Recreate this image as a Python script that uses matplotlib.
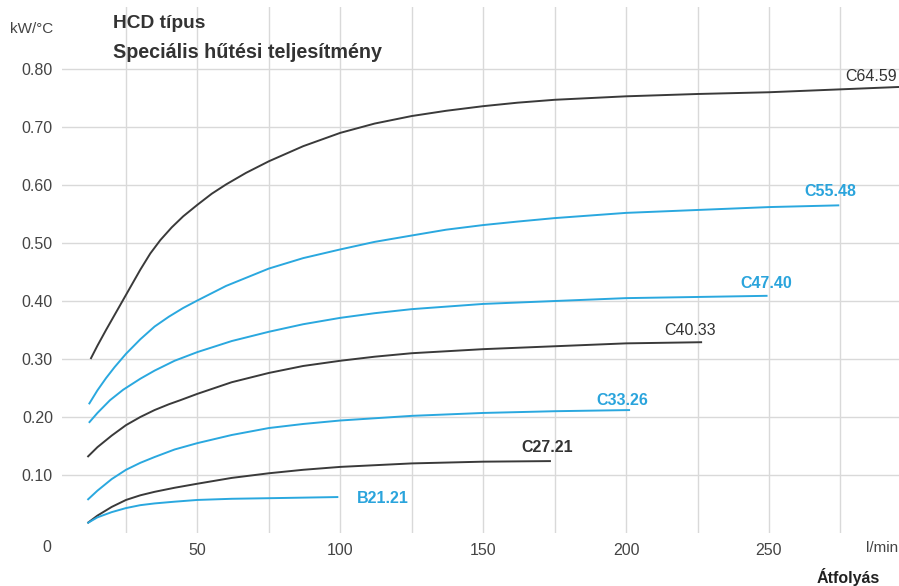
import matplotlib
matplotlib.use("Agg")
import matplotlib.pyplot as plt
from matplotlib.ticker import MultipleLocator, FixedLocator

plt.rcParams['font.family'] = ['Liberation Sans', 'DejaVu Sans']

# ---- data ----
names = ["C64.59", "C55.48", "C47.40", "C40.33", "C33.26", "C27.21", "B21.21"]
colors = ["#3a3a3a", "#2aa8df", "#2aa8df", "#3a3a3a", "#2aa8df", "#3a3a3a", "#2aa8df"]

x_c6459 = [12.6, 15, 18, 21, 24, 27, 30, 33.5, 37, 41, 45, 50, 55, 60, 67, 75, 87, 100, 112, 125,
           137, 150, 162, 175, 200, 225, 250, 275, 300]
y_c6459 = [0.300, 0.323, 0.350, 0.376, 0.402, 0.428, 0.454, 0.482, 0.505, 0.527, 0.546, 0.566,
           0.585, 0.601, 0.621, 0.641, 0.667, 0.690, 0.706, 0.719, 0.728, 0.736, 0.742, 0.747,
           0.753, 0.757, 0.760, 0.765, 0.770]

x_c5548 = [12, 15, 18, 21, 25, 30, 35, 40, 45, 50, 60, 75, 87, 100, 112, 125, 137, 150, 162, 175,
           200, 225, 250, 274.6]
y_c5548 = [0.222, 0.246, 0.267, 0.286, 0.309, 0.334, 0.356, 0.373, 0.388, 0.401, 0.426, 0.456,
           0.474, 0.489, 0.502, 0.513, 0.523, 0.531, 0.537, 0.543, 0.552, 0.557, 0.562, 0.565]

x_c4740 = [12, 15, 19.4, 24, 30, 35, 42, 50, 62, 75, 87, 100, 112, 125, 150, 175, 200, 225, 249.5]
y_c4740 = [0.190, 0.207, 0.229, 0.247, 0.266, 0.280, 0.297, 0.312, 0.331, 0.347, 0.360, 0.371,
           0.379, 0.386, 0.395, 0.400, 0.405, 0.407, 0.409]

x_c4033 = [11.5, 15, 20, 25, 30, 35, 40, 44, 50, 62, 75, 87, 100, 112, 125, 150, 175, 200, 226.6]
y_c4033 = [0.131, 0.148, 0.168, 0.186, 0.200, 0.212, 0.222, 0.229, 0.240, 0.260, 0.276, 0.288,
           0.297, 0.304, 0.310, 0.317, 0.322, 0.327, 0.329]

x_c3326 = [11.5, 15, 20, 25, 30, 35, 42, 50, 62, 75, 87, 100, 125, 150, 175, 201.4]
y_c3326 = [0.057, 0.073, 0.093, 0.109, 0.121, 0.131, 0.144, 0.155, 0.169, 0.181, 0.188, 0.194,
           0.202, 0.207, 0.210, 0.212]

x_c2721 = [11.5, 15, 20, 25, 30, 35, 42, 50, 62, 75, 87, 100, 125, 150, 173.7]
y_c2721 = [0.017, 0.030, 0.045, 0.057, 0.065, 0.071, 0.078, 0.085, 0.095, 0.103, 0.109, 0.114,
           0.120, 0.123, 0.124]

x_b2121 = [11.5, 15, 20, 25, 30, 35, 42, 50, 62, 75, 99.3]
y_b2121 = [0.017, 0.027, 0.036, 0.043, 0.048, 0.051, 0.054, 0.057, 0.059, 0.060, 0.062]

xs = [x_c6459, x_c5548, x_c4740, x_c4033, x_c3326, x_c2721, x_b2121]
ys = [y_c6459, y_c5548, y_c4740, y_c4033, y_c3326, y_c2721, y_b2121]

# label anchor positions (data coords) and weights
label_x = [294.9, 271.4, 249.0, 222.4, 198.6, 172.3, 115.0]
label_y = [0.788, 0.588, 0.430, 0.350, 0.229, 0.148, 0.059]
label_ha = ["right", "center", "center", "center", "center", "center", "center"]
label_w = ["normal", "bold", "bold", "normal", "bold", "bold", "bold"]

x_ticks = [50, 100, 150, 200, 250]
x_ticklabels = ["50", "100", "150", "200", "250"]
y_ticks = [0.1, 0.2, 0.3, 0.4, 0.5, 0.6, 0.7, 0.8]
y_ticklabels = ["0.10", "0.20", "0.30", "0.40", "0.50", "0.60", "0.70", "0.80"]

# ---- figure ----
fig = plt.figure(figsize=(8.99, 5.86), dpi=100)
ax = fig.add_axes([62 / 899, 1 - 533 / 586, 1 - 62 / 899, (533 - 7) / 586])
ax.set_xlim(2.6, 295.5)
ax.set_ylim(0, 0.907)

for s in ax.spines.values():
    s.set_visible(False)

ax.xaxis.set_major_locator(FixedLocator(x_ticks))
ax.xaxis.set_minor_locator(MultipleLocator(25))
ax.set_xticks(x_ticks)
ax.set_xticklabels(x_ticklabels)
ax.set_yticks(y_ticks)
ax.set_yticklabels(y_ticklabels)
ax.tick_params(axis='both', which='both', length=0, labelsize=11.5, labelcolor="#444444")
ax.tick_params(axis='x', pad=7)
ax.tick_params(axis='y', pad=6.5)
ax.grid(True, which='both', axis='x', color="#d9d9d9", linewidth=1.0)
ax.grid(True, which='major', axis='y', color="#d9d9d9", linewidth=1.0)
ax.set_axisbelow(True)

for x, y, c in zip(xs, ys, colors):
    ax.plot(x, y, color=c, linewidth=1.4, solid_capstyle='butt', solid_joinstyle='round')

for n, lx, ly, ha, w, c in zip(names, label_x, label_y, label_ha, label_w, colors):
    ax.text(lx, ly, n, ha=ha, va='center', fontsize=11.5, fontweight=w,
            color=("#333333" if c == "#3a3a3a" else "#2aa4dc"))

# origin label and axis units
fig.text(47 / 899, 1 - 547 / 586, "0", ha='center', va='center', fontsize=11.5, color="#444444")
fig.text(32 / 899, 1 - 29 / 586, "kW/°C", ha='center', va='center', fontsize=11, color="#444444")
fig.text(866 / 899, 1 - 548 / 586, "l/min", ha='left', va='center', fontsize=11, color="#444444")
fig.text(848 / 899, 1 - 577 / 586, "Átfolyás", ha='center', va='center', fontsize=11.5,
         fontweight='bold', color="#222222")

# titles
fig.text(113 / 899, 1 - 24 / 586, "HCD típus", ha='left', va='center', fontsize=13.8,
         fontweight='bold', color="#333333")
fig.text(113 / 899, 1 - 53 / 586, "Speciális hűtési teljesítmény", ha='left', va='center',
         fontsize=14.2, fontweight='bold', color="#333333")

fig.savefig("out.png", dpi=100)
